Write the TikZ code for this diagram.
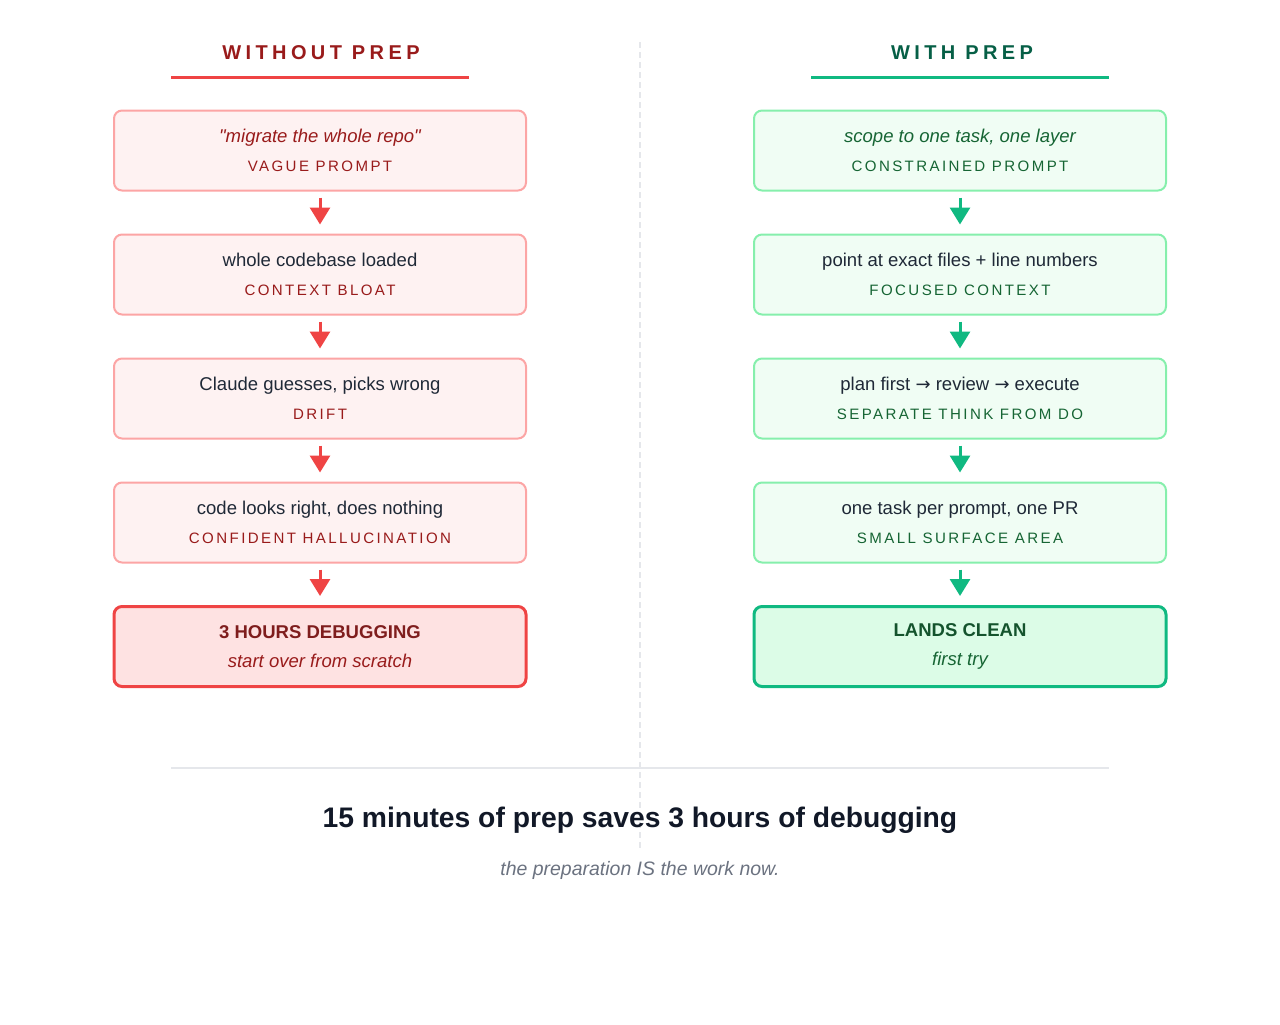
\documentclass[tikz,border=0pt]{standalone}
\usepackage{fontspec}
\setmainfont{Liberation Sans}[Ligatures=TeXOff]
\newfontfamily\pfArrowFont{DejaVu Sans}
\usetikzlibrary{arrows.meta}

\definecolor{badInk}{HTML}{991B1B}
\definecolor{badDeep}{HTML}{7F1D1D}
\definecolor{badLine}{HTML}{EF4444}
\definecolor{badEdge}{HTML}{FCA5A5}
\definecolor{badFill}{HTML}{FEF2F2}
\definecolor{badFillEnd}{HTML}{FEE2E2}
\definecolor{goodInk}{HTML}{065F46}
\definecolor{goodTagInk}{HTML}{166534}
\definecolor{goodDeep}{HTML}{14532D}
\definecolor{goodLine}{HTML}{10B981}
\definecolor{goodEdge}{HTML}{86EFAC}
\definecolor{goodFill}{HTML}{F0FDF4}
\definecolor{goodFillEnd}{HTML}{DCFCE7}
\definecolor{bodyInk}{HTML}{1F2937}
\definecolor{titleInk}{HTML}{111827}
\definecolor{mutedInk}{HTML}{6B7280}
\definecolor{ruleGray}{HTML}{E5E7EB}

\newcommand{\prepBoxWidth}{309pt}
\newcommand{\prepBoxHeight}{60pt}
\newcommand{\prepRowGap}{93pt}
\newcommand{\prepTag}[2]{{\color{#1}\fontsize{11.3}{21.75}\selectfont\addfontfeature{LetterSpace=16}#2}}
\newcommand{\prepThen}{{\pfArrowFont\fontsize{13.5}{21.75}\selectfont →}}
\tikzset{
  pf base/.style={font=\fontsize{13.9}{21.75}\selectfont, text=bodyInk, align=center},
  pf arrow/.style={line width=2.25pt, -{Triangle[width=15pt,length=12.75pt]},
    shorten <=4.5pt, shorten >=6.75pt},
  pf box/.style={draw, rectangle, rounded corners=6pt, line width=1.5pt,
    minimum width=\prepBoxWidth, minimum height=\prepBoxHeight, inner sep=0pt},
  pf head/.style={font=\fontsize{15}{18}\selectfont\bfseries\addfontfeature{LetterSpace=22}},
}

\begin{document}
\begin{tikzpicture}[
    x=0.75pt, y=-0.75pt,
    pf base,
    node distance=\prepRowGap,
    badbox/.style={pf box, draw=badEdge, fill=badFill},
    goodbox/.style={pf box, draw=goodEdge, fill=goodFill},
    badend/.style={pf box, draw=badLine, fill=badFillEnd, line width=2.25pt},
    goodend/.style={pf box, draw=goodLine, fill=goodFillEnd, line width=2.25pt},
    arrow/.style={pf arrow}
]
\useasboundingbox (0,0) rectangle (1280,1024);
\draw [ruleGray, line width=1.5pt, dash pattern=on 4.5pt off 3pt] (640,42) -- (640,852);

% headings
\node (badHead)  at (321,52.5) [pf head, text=badInk] {WITHOUT PREP};
\node (goodHead) at (962,52.5) [pf head, text=goodInk] {WITH PREP};
\draw [badLine, line width=2.25pt]  (171,78) -- (469,78);
\draw [goodLine, line width=2.25pt] (811,78) -- (1109,78);

% without prep
\node (bad1) at (320,150.5) [badbox]
  {{\color{badInk}\itshape "migrate the whole repo"}\\ \prepTag{badInk}{VAGUE PROMPT}};
\node (bad2) [badbox, below of=bad1]
  {whole codebase loaded\\ \prepTag{badInk}{CONTEXT BLOAT}};
\node (bad3) [badbox, below of=bad2]
  {Claude guesses, picks wrong\\ \prepTag{badInk}{DRIFT}};
\node (bad4) [badbox, below of=bad3]
  {code looks right, does nothing\\ \prepTag{badInk}{CONFIDENT HALLUCINATION}};
\node (bad5) [badend, below of=bad4]
  {{\color{badDeep}\bfseries 3 HOURS DEBUGGING}\\ {\color{badInk}\itshape start over from scratch}};

% with prep
\node (good1) at (960,150.5) [goodbox]
  {{\color{goodTagInk}\itshape scope to one task, one layer}\\ \prepTag{goodTagInk}{CONSTRAINED PROMPT}};
\node (good2) [goodbox, below of=good1]
  {point at exact files + line numbers\\ \prepTag{goodTagInk}{FOCUSED CONTEXT}};
\node (good3) [goodbox, below of=good2]
  {plan first \prepThen{} review \prepThen{} execute\\ \prepTag{goodTagInk}{SEPARATE THINK FROM DO}};
\node (good4) [goodbox, below of=good3]
  {one task per prompt, one PR\\ \prepTag{goodTagInk}{SMALL SURFACE AREA}};
\node (good5) [goodend, below of=good4]
  {{\color{goodDeep}\bfseries LANDS CLEAN}\\ {\color{goodTagInk}\itshape first try}};

\draw [arrow, badLine] (bad1) -- (bad2);
\draw [arrow, badLine] (bad2) -- (bad3);
\draw [arrow, badLine] (bad3) -- (bad4);
\draw [arrow, badLine] (bad4) -- (bad5);
\draw [arrow, goodLine] (good1) -- (good2);
\draw [arrow, goodLine] (good2) -- (good3);
\draw [arrow, goodLine] (good3) -- (good4);
\draw [arrow, goodLine] (good4) -- (good5);

% bottom line
\draw [ruleGray, line width=1.5pt] (171,768) -- (1109,768);
\node (moral) at (640,820.5) [font=\fontsize{21.2}{25}\selectfont\bfseries, text=titleInk]
  {15 minutes of prep saves 3 hours of debugging};
\node (coda) at (640,870) [font=\fontsize{14.6}{18}\selectfont\itshape, text=mutedInk]
  {the preparation IS the work now.};
\end{tikzpicture}
\end{document}
